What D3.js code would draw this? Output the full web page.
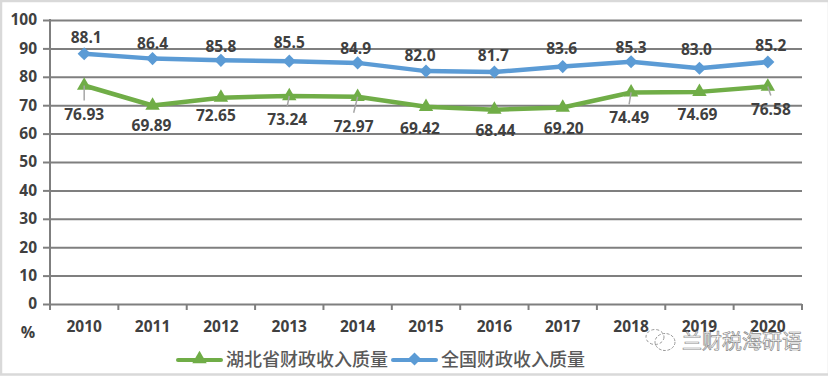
<!DOCTYPE html>
<html>
<head>
<meta charset="utf-8">
<script src="https://cdn.jsdelivr.net/npm/d3@7"></script>
<style>
  html, body { margin: 0; padding: 0; background: #fff; }
  svg { display: block; }
  text { font-family: "Open Sans", "Noto Sans", sans-serif; }
</style>
</head>
<body>
<div id="chart"></div>
<script>
const years = ['2010', '2011', '2012', '2013', '2014', '2015', '2016', '2017', '2018', '2019', '2020'];
const hubei = [76.93, 69.89, 72.65, 73.24, 72.97, 69.42, 68.44, 69.20, 74.49, 74.69, 76.58];
const national = [88.1, 86.4, 85.8, 85.5, 84.9, 82.0, 81.7, 83.6, 85.3, 83.0, 85.2];
const yTicks = [0, 10, 20, 30, 40, 50, 60, 70, 80, 90, 100];
const hubeiName = '湖北省财政收入质量';
const nationalName = '全国财政收入质量';
const watermark = '兰财税海研语';

(function () {
    const width = 828;
    const height = 376;
    const margin = { top: 20, right: 26, bottom: 72, left: 50 };
    const green = '#70ad47';
    const blue = '#5b9bd5';
    const grey = '#7f7f7f';
    const labelColor = '#404040';

    // label offsets from the point, by hand, the picture is not regular
    const hubeiLabelDx = [0, -1, -5, -2, -4, -6, 1, 1, -2, -2, 3];
    const hubeiLabelDy = [34, 25, 23, 29, 35, 27, 26, 27, 31, 28, 28];
    const nationalLabelDx = [2, 0, 0, 0, -2, -6, -1, -1, 0, -3, 3];
    const nationalLabelDy = [-11, -10, -8, -13, -9, -10, -11, -13, -9, -13, -11];
    const leaderYears = ['2010', '2013', '2014', '2018', '2020'];

    const svg = d3.select('#chart')
        .append('svg')
        .attr('width', width)
        .attr('height', height)
        .attr('viewBox', `0 0 ${width} ${height}`);

    // screenshot frame
    svg.append('rect')
        .attr('x', 1)
        .attr('y', 1)
        .attr('width', width)
        .attr('height', height - 2.5)
        .attr('fill', '#fff')
        .attr('stroke', '#d9d9d9')
        .attr('stroke-width', 2.5);

    const x = d3.scaleBand()
        .domain(years)
        .range([margin.left, width - margin.right]);

    const y = d3.scaleLinear()
        .domain([0, 100])
        .range([height - margin.bottom, margin.top]);

    const px = d => x(d) + x.bandwidth() / 2;

    // y axis with the grid lines
    const yAxis = svg.append('g')
        .attr('transform', `translate(${margin.left},0)`)
        .call(d3.axisLeft(y)
            .tickValues(yTicks)
            .tickSize(-(width - margin.left - margin.right))
            .tickPadding(13));
    yAxis.select('.domain').remove();
    yAxis.selectAll('line').attr('stroke', grey).attr('stroke-width', 2);
    yAxis.selectAll('text')
        .attr('fill', labelColor)
        .style('font-size', '15.5px')
        .style('font-weight', 700);

    // left spine and small tick stubs
    svg.append('line')
        .attr('x1', margin.left)
        .attr('x2', margin.left)
        .attr('y1', margin.top - 1)
        .attr('y2', height - margin.bottom + 6)
        .attr('stroke', grey)
        .attr('stroke-width', 2);
    svg.selectAll('.ystub')
        .data(yTicks)
        .enter()
        .append('line')
        .attr('x1', margin.left - 7)
        .attr('x2', margin.left)
        .attr('y1', d => y(d) + 0.5)
        .attr('y2', d => y(d) + 0.5)
        .attr('stroke', grey)
        .attr('stroke-width', 2);

    // x axis, ticks fall between the categories
    const xAxisY = y(0);
    svg.selectAll('.xtick')
        .data(years.slice(1).map(d => x(d)).concat([x.range()[1]]))
        .enter()
        .append('line')
        .attr('x1', d => d)
        .attr('x2', d => d)
        .attr('y1', xAxisY)
        .attr('y2', xAxisY + 6)
        .attr('stroke', grey)
        .attr('stroke-width', 2);

    svg.selectAll('.xlabel')
        .data(years)
        .enter()
        .append('text')
        .attr('x', d => px(d))
        .attr('y', xAxisY + 28)
        .attr('text-anchor', 'middle')
        .attr('fill', labelColor)
        .style('font-size', '15.5px')
        .style('font-weight', 700)
        .text(d => d);

    svg.append('text')
        .attr('x', 28)
        .attr('y', 338)
        .attr('text-anchor', 'middle')
        .attr('fill', labelColor)
        .style('font-size', '16px')
        .style('font-weight', 700)
        .text('%');

    const line = d3.line()
        .x((d, i) => px(years[i]))
        .y(d => y(d));

    const triangle = d3.symbol().type(d3.symbolTriangle).size(90);
    const diamond = d3.symbol().type(d3.symbolDiamond2).size(110);

    [
        { values: national, color: blue, sym: diamond, dx: nationalLabelDx, dy: nationalLabelDy, fmt: d3.format('.1f') },
        { values: hubei, color: green, sym: triangle, dx: hubeiLabelDx, dy: hubeiLabelDy, fmt: d3.format('.2f') }
    ].forEach(s => {
        svg.append('path')
            .datum(s.values)
            .attr('d', line)
            .attr('fill', 'none')
            .attr('stroke', s.color)
            .attr('stroke-width', 4.5)
            .attr('stroke-linejoin', 'round');

        svg.selectAll(null)
            .data(s.values)
            .enter()
            .append('path')
            .attr('d', s.sym)
            .attr('fill', s.color)
            .attr('transform', (d, i) => `translate(${px(years[i])},${y(d)})`);

        svg.selectAll(null)
            .data(s.values)
            .enter()
            .append('text')
            .attr('x', (d, i) => px(years[i]) + s.dx[i])
            .attr('y', (d, i) => y(d) + s.dy[i])
            .attr('text-anchor', 'middle')
            .attr('fill', labelColor)
            .style('font-size', '15.5px')
            .style('font-weight', 700)
            .text(d => s.fmt(d));
    });

    // grey leader lines sit over the triangles and point at the moved labels
    svg.selectAll('.leader')
        .data(leaderYears.map(d => years.indexOf(d)))
        .enter()
        .append('line')
        .attr('x1', i => px(years[i]))
        .attr('x2', i => px(years[i]) + hubeiLabelDx[i])
        .attr('y1', i => y(hubei[i]))
        .attr('y2', i => y(hubei[i]) + hubeiLabelDy[i] - 19)
        .attr('stroke', '#a6a6a6')
        .attr('stroke-width', 1.5);

    // legend
    const legendY = 360;
    const legend = [
        { name: hubeiName, color: green, sym: triangle, x0: 178, x1: 221, tx: 226 },
        { name: nationalName, color: blue, sym: diamond, x0: 393, x1: 436, tx: 441 }
    ];
    legend.forEach(l => {
        svg.append('line')
            .attr('x1', l.x0)
            .attr('x2', l.x1)
            .attr('y1', legendY)
            .attr('y2', legendY)
            .attr('stroke', l.color)
            .attr('stroke-width', 4)
            .attr('stroke-linecap', 'round');
        svg.append('path')
            .attr('d', l.sym)
            .attr('fill', l.color)
            .attr('transform', `translate(${(l.x0 + l.x1) / 2},${legendY - 1})`);
        svg.append('text')
            .attr('x', l.tx)
            .attr('y', legendY + 6)
            .attr('fill', '#595959')
            .style('font-family', '"Noto Sans CJK SC"')
            .style('font-size', '18px')
            .style('font-weight', 500)
            .text(l.name);
    });

    // watermark, bubble icon and account name
    const mark = svg.append('g').attr('fill', 'none').attr('stroke', '#9a9a9a').attr('stroke-width', 1);
    mark.append('ellipse').attr('cx', 665).attr('cy', 342).attr('rx', 10).attr('ry', 8.5)
        .attr('stroke-dasharray', '3 1.5').attr('fill', '#fff');
    mark.append('ellipse').attr('cx', 655).attr('cy', 337).attr('rx', 9).attr('ry', 7.5)
        .attr('stroke-dasharray', '3 2');

    svg.append('text')
        .attr('x', 682)
        .attr('y', 349)
        .attr('fill', '#fff')
        .attr('stroke', '#8c8c8c')
        .attr('stroke-width', 0.7)
        .style('font-family', '"Noto Sans CJK SC"')
        .style('font-size', '20px')
        .text(watermark);
})();
</script>
</body>
</html>
